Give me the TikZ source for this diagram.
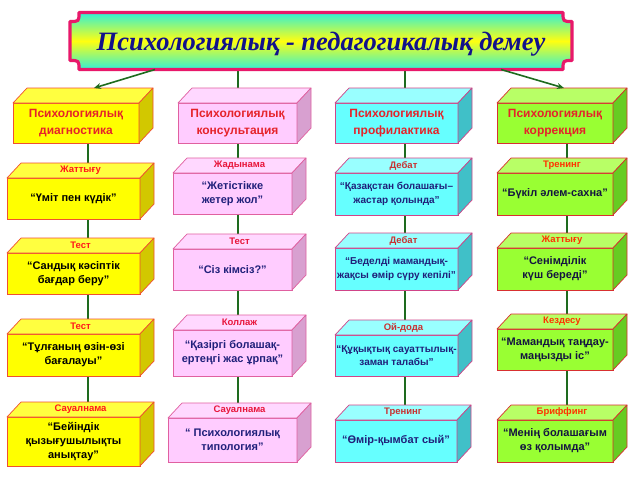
\documentclass[tikz,border=0pt]{standalone}
\usepackage{fontspec}
\setmainfont{Liberation Sans}
\newfontfamily\ttlfont{Liberation Serif}
\usetikzlibrary{calc,backgrounds,arrows.meta}
\definecolor{tframe}{HTML}{E8186A}
\definecolor{taqua}{HTML}{30F0D8}
\definecolor{tyel}{HTML}{FFFF10}
\definecolor{tnavy}{HTML}{12128A}
\definecolor{conn}{HTML}{1E6B1E}
\definecolor{yf}{HTML}{FFFF00}\definecolor{yt}{HTML}{FFFF40}\definecolor{ys}{HTML}{D2C800}\definecolor{yb}{HTML}{F05030}
\definecolor{pf}{HTML}{FFCCFF}\definecolor{pt}{HTML}{FFD8FF}\definecolor{ps}{HTML}{D8A0D0}\definecolor{pb}{HTML}{E060A0}
\definecolor{cf}{HTML}{66FFFF}\definecolor{ct}{HTML}{99FFFF}\definecolor{cs}{HTML}{40C0C8}\definecolor{cb}{HTML}{D04488}
\definecolor{gf}{HTML}{99FF33}\definecolor{gt}{HTML}{B8FF66}\definecolor{gs}{HTML}{66CC22}\definecolor{gb}{HTML}{D83030}
\definecolor{ylab}{HTML}{FF1A1A}\definecolor{plab}{HTML}{E8163C}\definecolor{clab}{HTML}{C83232}\definecolor{glab}{HTML}{FF3300}
\definecolor{hred}{HTML}{E5232A}
\definecolor{bnavy}{HTML}{20207A}
\definecolor{gdark}{HTML}{141440}
\newcommand\cubefaces[6]{%
  \draw[draw=#4, fill=#2, line width=0.7pt, line join=round]
    (#1.north west) -- ($(#1.north west)+(14,-15)$) -- ($(#1.north east)+(14,-15)$) -- (#1.north east) -- cycle;
  \draw[draw=#4, fill=#3, line width=0.7pt, line join=round]
    (#1.north east) -- ($(#1.north east)+(14,-15)$) -- ($(#1.south east)+(14,-15)$) -- (#1.south east) -- cycle;
  \node[lab, text=#6] (#1lab) at ($(#1.north)+(7,-7.5)$) {#5};
}
\begin{document}
\begin{tikzpicture}[x=1pt,y=-1pt,
  box/.style={outer sep=0pt, inner sep=1pt, line width=0.7pt, align=center,
              font=\fontsize{11}{14}\selectfont\bfseries},
  hbox/.style={box, minimum height=40pt, text=hred, font=\fontsize{12}{17}\selectfont\bfseries},
  ybox/.style={box, draw=yb, fill=yf, text=black},
  pbox/.style={box, draw=pb, fill=pf, text=bnavy},
  cbox/.style={box, draw=cb, fill=cf, text=bnavy, font=\fontsize{10}{13.5}\selectfont\bfseries},
  gbox/.style={box, draw=gb, fill=gf, text=gdark},
  lab/.style={inner sep=0pt, font=\fontsize{9.5}{11}\selectfont\bfseries},
  cline/.style={draw=conn, line width=1.6pt},
  carrow/.style={cline, -{Stealth[length=7pt,width=6pt]}}]
\begin{scope}[on background layer]
  \fill[white] (0,0) rectangle (640,480);
\end{scope}
\useasboundingbox (0,0) rectangle (640,480);
% title
\node[minimum width=502pt, minimum height=57pt, inner sep=0pt, outer sep=0pt] (title) at (321,41) {};
\path[draw=tframe, line width=3.2pt, line join=round, shade, top color=taqua, bottom color=taqua, middle color=tyel]
  ($(title.north west)+(9,0)$) -- ($(title.north east)+(-9,0)$)
  .. controls ($(title.north east)+(-9,9)$) .. ($(title.north east)+(0,9)$)
  -- ($(title.south east)+(0,-9)$)
  .. controls ($(title.south east)+(-9,-9)$) .. ($(title.south east)+(-9,0)$)
  -- ($(title.south west)+(9,0)$)
  .. controls ($(title.south west)+(9,-9)$) .. ($(title.south west)+(0,-9)$)
  -- ($(title.north west)+(0,9)$)
  .. controls ($(title.north west)+(9,9)$) .. ($(title.north west)+(9,0)$) -- cycle;
\node[text=tnavy, font=\ttlfont\fontsize{26.5}{30}\selectfont\bfseries\itshape] (titletext) at ($(title.center)+(0,3)$) {Психологиялық - педагогикалық демеу};
% column x positions
\coordinate (k1) at (88,0);
\coordinate (k2) at (238,0);
\coordinate (k3) at (405,0);
\coordinate (k4) at (567,0);
% top boxes
\node[hbox, draw=yb, fill=yf, minimum width=126pt] (t1) at (76,123) {Психологиялық\\диагностика};
\cubefaces{t1}{yt}{ys}{yb}{}{ylab}
\node[hbox, draw=pb, fill=pf, minimum width=119pt] (t2) at (237.5,123) {Психологиялық\\консультация};
\cubefaces{t2}{pt}{ps}{pb}{}{plab}
\node[hbox, draw=cb, fill=cf, minimum width=123pt] (t3) at (396.5,123) {Психологиялық\\профилактика};
\cubefaces{t3}{ct}{cs}{cb}{}{clab}
\node[hbox, draw=gb, fill=gf, minimum width=116pt] (t4) at (555,123) {Психологиялық\\коррекция};
\cubefaces{t4}{gt}{gs}{gb}{}{glab}
% row 2
\node[ybox, minimum width=133pt, minimum height=41pt] (a1) at (73.5,198.5) {“Үміт пен күдік”};
\cubefaces{a1}{yt}{ys}{yb}{Жаттығу}{ylab}
\node[pbox, minimum width=119pt, minimum height=41pt] (a2) at (232.5,193.5) {“Жетістікке\\жетер жол”};
\cubefaces{a2}{pt}{ps}{pb}{Жадынама}{plab}
\node[cbox, minimum width=123pt, minimum height=42pt] (a3) at (396.5,194) {“Қазақстан болашағы–\\жастар қолында”};
\cubefaces{a3}{ct}{cs}{cb}{Дебат}{clab}
\node[gbox, minimum width=116pt, minimum height=42pt] (a4) at (555,194) {“Бүкіл әлем-сахна”};
\cubefaces{a4}{gt}{gs}{gb}{Тренинг}{glab}
% row 3
\node[ybox, minimum width=133pt, minimum height=41pt] (b1) at (73.5,273.5) {“Сандық кәсіптік\\бағдар беру”};
\cubefaces{b1}{yt}{ys}{yb}{Тест}{ylab}
\node[pbox, minimum width=119pt, minimum height=41pt] (b2) at (232.5,269.5) {“Сіз кімсіз?”};
\cubefaces{b2}{pt}{ps}{pb}{Тест}{plab}
\node[cbox, minimum width=123pt, minimum height=42pt] (b3) at (396.5,269) {“Беделді мамандық-\\жақсы өмір сүру кепілі”};
\cubefaces{b3}{ct}{cs}{cb}{Дебат}{clab}
\node[gbox, minimum width=116pt, minimum height=42pt] (b4) at (555,269) {“Сенімділік\\күш береді”};
\cubefaces{b4}{gt}{gs}{gb}{Жаттығу}{glab}
% row 4
\node[ybox, minimum width=133pt, minimum height=42pt] (c1) at (73.5,355) {“Тұлғаның өзін-өзі\\бағалауы”};
\cubefaces{c1}{yt}{ys}{yb}{Тест}{ylab}
\node[pbox, minimum width=119pt, minimum height=46pt] (c2) at (232.5,353) {“Қазіргі болашақ-\\ертеңгі жас ұрпақ”};
\cubefaces{c2}{pt}{ps}{pb}{Коллаж}{plab}
\node[cbox, minimum width=123pt, minimum height=41pt] (c3) at (396.5,355.5) {“Құқықтық сауаттылық-\\заман талабы”};
\cubefaces{c3}{ct}{cs}{cb}{Ой-дода}{clab}
\node[gbox, minimum width=116pt, minimum height=41pt] (c4) at (555,349.5) {“Мамандық таңдау-\\маңызды іс”};
\cubefaces{c4}{gt}{gs}{gb}{Кездесу}{glab}
% row 5
\node[ybox, minimum width=133pt, minimum height=49pt] (d1) at (73.5,441.5) {“Бейіндік\\қызығушылықты\\анықтау”};
\cubefaces{d1}{yt}{ys}{yb}{Сауалнама}{ylab}
\node[pbox, minimum width=129pt, minimum height=44pt] (d2) at (232.5,440) {“ Психологиялық\\типология”};
\cubefaces{d2}{pt}{ps}{pb}{Сауалнама}{plab}
\node[cbox, font=\fontsize{11}{14}\selectfont\bfseries, minimum width=122pt, minimum height=42pt] (d3) at (396,441) {“Өмір-қымбат сый”};
\cubefaces{d3}{ct}{cs}{cb}{Тренинг}{clab}
\node[gbox, minimum width=116pt, minimum height=42pt] (d4) at (555,441) {“Менің болашағым\\өз қолымда”};
\cubefaces{d4}{gt}{gs}{gb}{Бриффинг}{glab}
% connectors
\begin{scope}[on background layer]
  \draw[cline] (k2 |- title.south) -- (k2 |- t2.north);
  \draw[cline] (k3 |- title.south) -- (k3 |- t3.north);
  \foreach \c in {1,2,3,4} {
    \draw[cline] (k\c |- t\c.south) -- (k\c |- a\c.north);
    \draw[cline] (k\c |- a\c.south) -- (k\c |- b\c.north);
    \draw[cline] (k\c |- b\c.south) -- (k\c |- c\c.north);
    \draw[cline] (k\c |- c\c.south) -- (k\c |- d\c.north);
  }
\end{scope}
\draw[carrow] ($(title.south west)+(85,0)$) -- ($(t1.north west)+(81,-15)$);
\draw[carrow] ($(title.south east)+(-71,0)$) -- ($(t4.north west)+(67,-15)$);
\end{tikzpicture}
\end{document}
